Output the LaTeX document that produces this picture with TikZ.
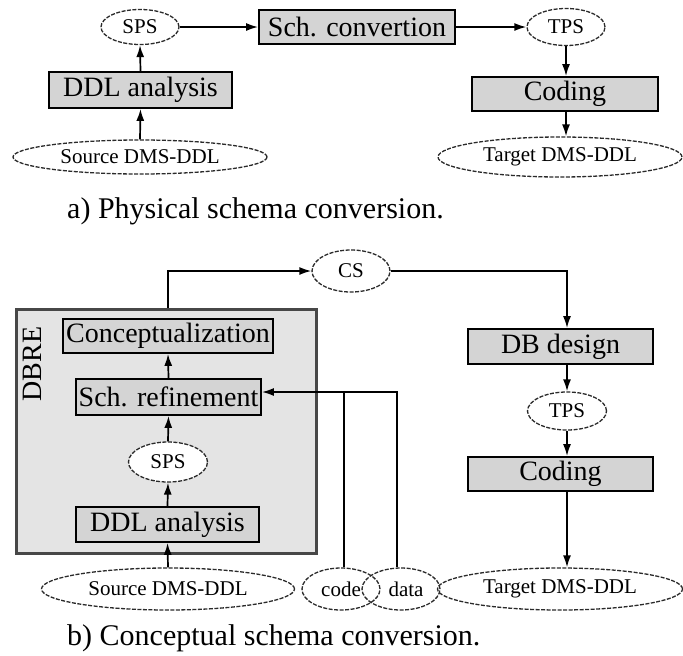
\documentclass[tikz,border=0pt]{standalone}
\usepackage{fontspec}
\setmainfont{Liberation Serif}
\usetikzlibrary{shapes.geometric,arrows.meta}
\definecolor{boxfill}{HTML}{D4D4D4}
\definecolor{dbrefill}{HTML}{E4E4E4}
\definecolor{dbreline}{HTML}{474747}
\definecolor{ellline}{HTML}{2A2A2A}
\tikzset{
  procbox/.style={draw=black, line width=1.8pt, fill=boxfill, inner sep=0pt,
    font=\fontsize{28}{30}\selectfont},
  dataell/.style={ellipse, draw=ellline, line width=1.3pt, dash pattern=on 4pt off 1.5pt,
    fill=white, inner sep=0pt, font=\fontsize{21}{24}\selectfont},
  arr/.style={line width=1.7pt, -{Latex[length=12pt,width=8pt]}},
  plain/.style={line width=1.7pt},
  caption/.style={anchor=base west, inner sep=0pt, font=\fontsize{30}{34}\selectfont}
}
\begin{document}
\begin{tikzpicture}[x=1pt,y=-1pt]
\useasboundingbox[fill=white] (0,0) rectangle (683,656);

% ---------- a) physical schema conversion ----------
\node[dataell, minimum width=78pt, minimum height=35pt] (sps1) at (140,27) {SPS};
\node[procbox, minimum width=196pt, minimum height=34pt] (conv) at (357,27) {Sch. convertion};
\node[dataell, minimum width=78pt, minimum height=37pt] (tps1) at (566,27) {TPS};
\node[procbox, minimum width=186pt, minimum height=34pt] (coding1) at (565,94) {Coding};
\node[dataell, minimum width=244pt, minimum height=40pt] (target1) at (560,157) {Target DMS-DDL};
\node[procbox, minimum width=183pt, minimum height=36pt] (ddl1) at (140.5,90) {DDL analysis};
\node[dataell, minimum width=254pt, minimum height=34pt] (source1) at (140,157) {Source DMS-DDL};
\node[caption] (capa) at (67,218) {a) Physical schema conversion.};

\draw[arr] (source1.north) -- (ddl1.south);
\draw[arr] (ddl1.north) -- (sps1.south);
\draw[arr] (sps1.east) -- (conv.west);
\draw[arr] (conv.east) -- (tps1.west);
\draw[arr] (tps1.south) -- (tps1 |- coding1.north);
\draw[arr] (tps1 |- coding1.south) -- (tps1 |- target1.north);

% ---------- b) conceptual schema conversion ----------
\node[draw=dbreline, line width=3pt, fill=dbrefill, minimum width=300pt, minimum height=244pt,
      inner sep=0pt] (dbre) at (166,431) {};
\node[rotate=90, inner sep=0pt, font=\fontsize{28}{30}\selectfont] (dbrelabel) at (32,364) {DBRE};

\node[procbox, minimum width=210pt, minimum height=34pt] (concept) at (168,336) {Conceptualization};
\node[procbox, minimum width=185pt, minimum height=36pt] (refine) at (168.5,397) {Sch. refinement};
\node[dataell, minimum width=79pt, minimum height=40pt] (sps2) at (168,462) {SPS};
\node[procbox, minimum width=183pt, minimum height=35pt] (ddl2) at (167.5,524.5) {DDL analysis};
\node[dataell, minimum width=253pt, minimum height=42pt] (source2) at (168,589) {Source DMS-DDL};

\node[dataell, minimum width=78pt, minimum height=42pt] (cs) at (351,271) {CS};
\node[procbox, minimum width=185pt, minimum height=35pt] (dbdesign) at (560.5,346.5) {DB design};
\node[dataell, minimum width=79pt, minimum height=38pt] (tps2) at (567,411) {TPS};
\node[procbox, minimum width=185pt, minimum height=34pt] (coding2) at (560.5,474) {Coding};
\node[dataell, minimum width=245pt, minimum height=42pt] (target2) at (560,589) {Target DMS-DDL};

\node[dataell, minimum width=78pt, minimum height=42pt, fill=none] (code) at (341,589) {code\hspace{10pt}};
\node[dataell, minimum width=78pt, minimum height=42pt, fill=none] (data) at (401,589) {\hspace{10pt}data};

\node[caption] (capb) at (67,645) {b) Conceptual schema conversion.};

\draw[arr] (source2.north) -- (ddl2.south);
\draw[arr] (ddl2.north) -- (sps2.south);
\draw[arr] (sps2.north) -- (refine.south);
\draw[arr] (refine.north) -- (concept.south);
\draw[arr] (concept.north |- dbre.north) |- (cs.west);
\draw[arr] (cs.east) -| (tps2 |- dbdesign.north);
\draw[arr] (tps2 |- dbdesign.south) -- (tps2.north);
\draw[arr] (tps2.south) -- (tps2 |- coding2.north);
\draw[arr] (tps2 |- coding2.south) -- (tps2 |- target2.north);

\coordinate (refin) at ([yshift=5pt]refine.east);
\draw[plain] ([xshift=3pt]code.north) -- ([xshift=3pt]code.north |- refin);
\draw[arr] ([xshift=-4pt]data.north) |- (refin);
\end{tikzpicture}
\end{document}
